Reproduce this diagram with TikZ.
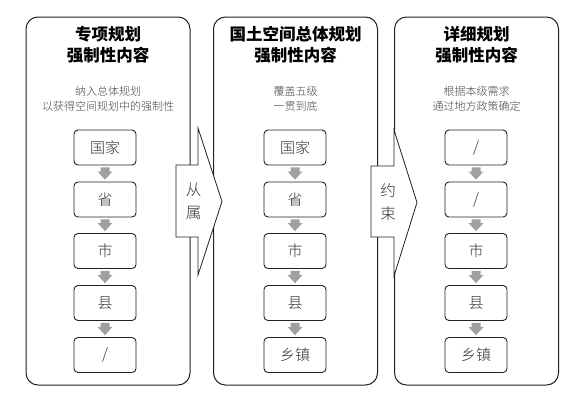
\documentclass[tikz,border=0pt]{standalone}
\usepackage{fontspec}
\newfontfamily\cjkblack{Noto Sans CJK SC Black}
\newfontfamily\cjklight{Noto Sans CJK SC Light}
\usetikzlibrary{calc}
\definecolor{linec}{HTML}{222222}
\definecolor{txtc}{HTML}{333333}
\definecolor{subc}{HTML}{444444}
\definecolor{arrowgray}{HTML}{A0A0A0}
\tikzset{
  panel/.style={draw=linec, line width=1pt, rounded corners=12pt, minimum width=164pt, minimum height=368pt, inner sep=0pt},
  levelbox/.style={draw=linec, line width=0.9pt, rounded corners=4pt, minimum width=62pt, minimum height=35pt, inner sep=0pt, font=\cjklight\fontsize{15}{16}\selectfont, text=txtc},
  ptitle/.style={align=center, font=\cjkblack\fontsize{16.5}{21}\selectfont, text=black, inner sep=0pt},
  psub/.style={align=center, font=\cjklight\fontsize{11}{15}\selectfont, text=subc, inner sep=0pt},
  calltext/.style={align=center, font=\cjklight\fontsize{15.5}{23}\selectfont, text=txtc, inner sep=0pt},
  callout/.style={draw=linec, line width=0.8pt, fill=white, line join=miter},
}
\newcommand\garrow[2]{%
  \fill[arrowgray] ([xshift=-4.5pt,yshift=-2pt]#1.south) -- ([xshift=4.5pt,yshift=-2pt]#1.south)
    -- ([xshift=4.5pt,yshift=10pt]#2.north) -- ([xshift=7.5pt,yshift=10pt]#2.north)
    -- ([yshift=2pt]#2.north) -- ([xshift=-7.5pt,yshift=10pt]#2.north)
    -- ([xshift=-4.5pt,yshift=10pt]#2.north) -- cycle;}
\begin{document}
\begin{tikzpicture}[x=1pt,y=-1pt]
\useasboundingbox[fill=white] (0,0) rectangle (580,400);
% panels
\node[panel] (p1) at (108,201) {};
\node[panel] (p2) at (295.5,201) {};
\node[panel] (p3) at (476.5,201) {};
% titles
\node[ptitle] (t1) at (108,45) {专项规划\\强制性内容};
\node[ptitle] (t2) at (295.5,45) {国土空间总体规划\\强制性内容};
\node[ptitle] (t3) at (476.5,45) {详细规划\\强制性内容};
% subtitles
\node[psub] (s1) at (108,98.5) {纳入总体规划\\以获得空间规划中的强制性};
\node[psub] (s2) at (295.5,98.5) {覆盖五级\\一贯到底};
\node[psub] (s3) at (476.5,98.5) {根据本级需求\\通过地方政策确定};
% boxes panel 1
\node[levelbox] (a1) at (105,147.5) {国家};
\node[levelbox] (a2) at (105,199.5) {省};
\node[levelbox] (a3) at (105,251) {市};
\node[levelbox] (a4) at (105,303) {县};
\node[levelbox] (a5) at (105,355) {/};
% boxes panel 2
\node[levelbox] (b1) at (295,147.5) {国家};
\node[levelbox] (b2) at (295,199.5) {省};
\node[levelbox] (b3) at (295,251) {市};
\node[levelbox] (b4) at (295,303) {县};
\node[levelbox] (b5) at (295,355) {乡镇};
% boxes panel 3
\node[levelbox] (c1) at (476,147.5) {/};
\node[levelbox] (c2) at (476,199.5) {/};
\node[levelbox] (c3) at (476,251) {市};
\node[levelbox] (c4) at (476,303) {县};
\node[levelbox] (c5) at (476,355) {乡镇};
% gray arrows
\garrow{a1}{a2}\garrow{a2}{a3}\garrow{a3}{a4}\garrow{a4}{a5}
\garrow{b1}{b2}\garrow{b2}{b3}\garrow{b3}{b4}\garrow{b4}{b5}
\garrow{c1}{c2}\garrow{c2}{c3}\garrow{c3}{c4}\garrow{c4}{c5}
% callouts
\draw[callout] (176,165) -- (198,165) -- (198,128) -- (222,201.5) -- (198,275) -- (198,237) -- (176,237) -- cycle;
\node[calltext] (k1) at (193.5,201.5) {从\\属};
\draw[callout] (371,166) -- (394,166) -- (394,130) -- (417,202.5) -- (394,276) -- (394,237) -- (371,237) -- cycle;
\node[calltext] (k2) at (388,202) {约\\束};
\end{tikzpicture}
\end{document}
